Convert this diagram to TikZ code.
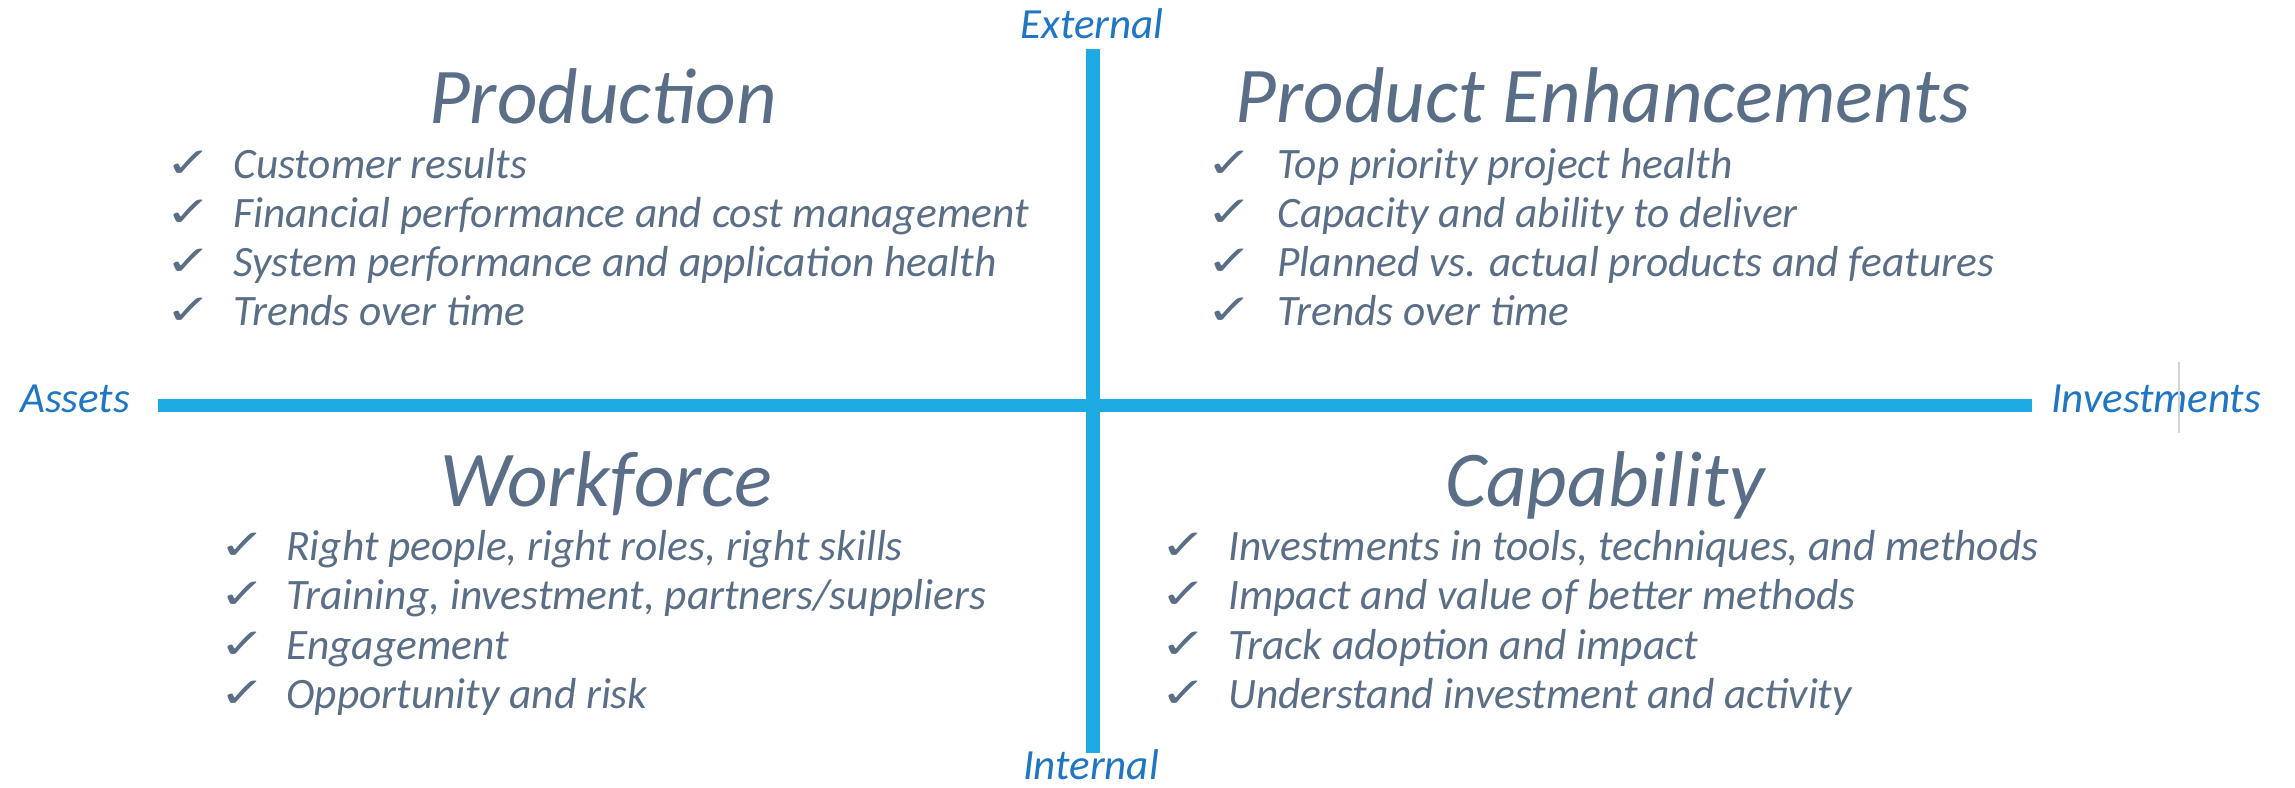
\documentclass[tikz,border=0pt]{standalone}
\usepackage{fontspec}
\setmainfont{Carlito}
\newfontfamily\symfont{DejaVu Sans}
\definecolor{axisblue}{HTML}{1EABE3}
\definecolor{labelblue}{HTML}{1F76C4}
\definecolor{slate}{HTML}{5A6F87}
\definecolor{faintgray}{HTML}{D4D4D4}
\newcommand{\chk}{\scalebox{1}[0.75]{✓}}
\begin{document}
\begin{tikzpicture}[x=0.5pt,y=-0.5pt,
  axis/.style={axisblue,line width=7pt},
  axislabel/.style={inner sep=0,anchor=base,text=labelblue,font=\fontsize{21.5}{24}\selectfont\itshape},
  quadtitle/.style={inner sep=0,anchor=base,text=slate,font=\fontsize{39.5}{42}\selectfont\itshape},
  item/.style={inner sep=0,anchor=base west,text=slate,font=\fontsize{21.7}{24}\selectfont\itshape},
  tick/.style={inner sep=0,anchor=base,text=slate,font=\symfont\fontsize{28}{30}\selectfont}]
  \useasboundingbox[fill=white] (0,0) rectangle (2295,787);

  % axes
  \coordinate (vtop) at (1093,49);
  \coordinate (vbot) at (1093,753);
  \coordinate (hleft) at (158,405);
  \coordinate (hright) at (2032,405);
  \draw[axis] (vtop) -- (vbot);
  \draw[axis,line width=6.5pt] (hleft) -- (hright);

  % axis labels
  \node[axislabel] (ext) at (1092,39) {External};
  \node[axislabel] (int) at (1091,779) {Internal};
  \node[axislabel] (ast) at (75,412) {Assets};
  \node[axislabel] (inv) at (2156,412) {Investments};
  \coordinate (marka) at (2179,362);
  \coordinate (markb) at (2179,433);
  \draw[faintgray,line width=1.2pt] (marka) -- (markb);

  % quadrant titles
  \node[quadtitle] (tprod) at (603,123) {Production};
  \node[quadtitle] (tenh) at (1603,122) {Product Enhancements};
  \node[quadtitle] (twork) at (606,506) {Workforce};
  \node[quadtitle] (tcap) at (1605,506) {Capability};

  % Production
  \foreach \t [count=\i] in {Customer results,Financial performance and cost management,System performance and application health,Trends over time}{
    \node[item] (p\i) at (233,{178+49*(\i-1)}) {\t};
    \node[tick] (pc\i) at (189,{177+49*(\i-1)}) {\chk};
  }
  % Product Enhancements
  \foreach \t [count=\i] in {Top priority project health,Capacity and ability to deliver,Planned vs. actual products and features,Trends over time}{
    \node[item] (e\i) at (1277,{178+49*(\i-1)}) {\t};
    \node[tick] (ec\i) at (1230,{177+49*(\i-1)}) {\chk};
  }
  % Workforce
  \foreach \t [count=\i] in {{Right people, right roles, right skills},{Training, investment, partners/suppliers},Engagement,Opportunity and risk}{
    \node[item] (w\i) at (286,{560+49.5*(\i-1)}) {\t};
    \node[tick] (wc\i) at (243,{559+49.5*(\i-1)}) {\chk};
  }
  % Capability
  \foreach \t [count=\i] in {{Investments in tools, techniques, and methods},Impact and value of better methods,Track adoption and impact,Understand investment and activity}{
    \node[item] (c\i) at (1228,{560+49.5*(\i-1)}) {\t};
    \node[tick] (cc\i) at (1184,{559+49.5*(\i-1)}) {\chk};
  }
\end{tikzpicture}
\end{document}
